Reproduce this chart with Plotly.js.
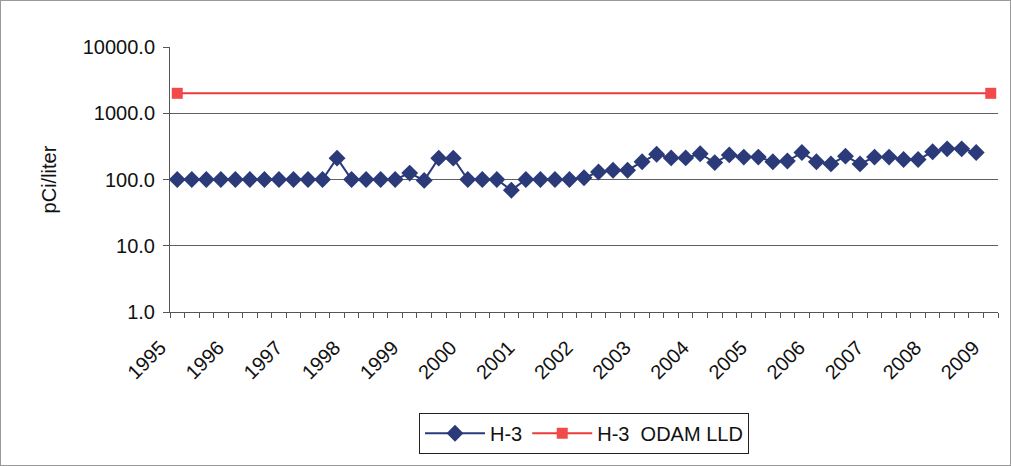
<!DOCTYPE html>
<html>
<head>
<meta charset="utf-8">
<script src="https://cdn.plot.ly/plotly-3.0.1.min.js"></script>
<style>
html,body{margin:0;padding:0;background:#fff;}
#chart{width:1011px;height:466px;}
#frame{position:absolute;left:0;top:0;width:1009px;height:464px;border:1px solid #9a9a9a;pointer-events:none;}
</style>
</head>
<body>
<div id="chart"></div>
<div id="frame"></div>
<script>
// Year labels shown on the category axis (every 4th quarterly category)
const yearLabels = ["1995","1996","1997","1998","1999","2000","2001","2002","2003","2004","2005","2006","2007","2008","2009"];
// H-3 quarterly results, pCi/liter (categories 0..55)
const h3Values = [
  100,100,100,100, 100,100,100,100, 100,100,100,210,
  100,100,100,100, 125,97,210,210, 100,100,100,69,
  100,100,100,100, 106,130,138,138, 185,240,212,212,
  245,180,235,218, 218,185,190,255, 185,172,225,172,
  218,218,200,200, 262,290,290,255
];
// H-3 ODAM LLD, pCi/liter (first and last category)
const lldValues = [2000, 2000];
const lldCats = [0, 56];

const nCats = 57;
const h3Cats = h3Values.map((v, i) => i);
const tickVals = yearLabels.map((y, i) => i * 4);

const traces = [
  {
    x: h3Cats, y: h3Values, name: "H-3", type: "scatter", mode: "lines+markers",
    line: {color: "#2b3a78", width: 2},
    marker: {symbol: "diamond", size: 13, color: "#2b3a78"}
  },
  {
    x: lldCats, y: lldValues, name: "H-3\u00a0\u00a0ODAM LLD", type: "scatter", mode: "lines+markers",
    line: {color: "#ee3b3b", width: 2},
    marker: {symbol: "square", size: 11, color: "#f24a4a"}
  }
];

const layout = {
  width: 1011, height: 466,
  margin: {l: 170, r: 13, t: 47, b: 154},
  paper_bgcolor: "#ffffff", plot_bgcolor: "#ffffff",
  font: {family: "Liberation Sans, Arial, sans-serif", size: 20, color: "#111"},
  showlegend: true,
  legend: {
    orientation: "h", x: 0.5, xanchor: "center", y: -0.38, yanchor: "top",
    bordercolor: "#222", borderwidth: 1, font: {size: 20, color: "#111"},
    itemwidth: 60
  },
  xaxis: {
    range: [-0.5, nCats - 0.5], tickvals: tickVals, ticktext: yearLabels,
    tickangle: -45, ticks: "", showgrid: false, zeroline: false,
    showline: true, linecolor: "#555", linewidth: 1,
    tickfont: {size: 20, color: "#111"}, ticklabelstandoff: 15, ticklabelshift: -17,
    minor: {ticks: "outside", ticklen: 5, tickcolor: "#555", tick0: -0.5, dtick: 1, showgrid: false}
  },
  yaxis: {
    type: "log", range: [0, 4],
    tickvals: [1, 10, 100, 1000, 10000],
    ticktext: ["1.0", "10.0", "100.0", "1000.0", "10000.0"],
    showgrid: true, gridcolor: "#606060", gridwidth: 1,
    showline: true, linecolor: "#555", linewidth: 1,
    ticks: "outside", ticklen: 6, tickcolor: "#555",
    tickfont: {size: 20, color: "#111"}, ticklabelstandoff: 4,
    title: {text: "pCi/liter", font: {size: 20, color: "#111"}, standoff: 20},
    zeroline: false
  }
};

Plotly.newPlot("chart", traces, layout, {displayModeBar: false, staticPlot: true});
</script>
</body>
</html>
